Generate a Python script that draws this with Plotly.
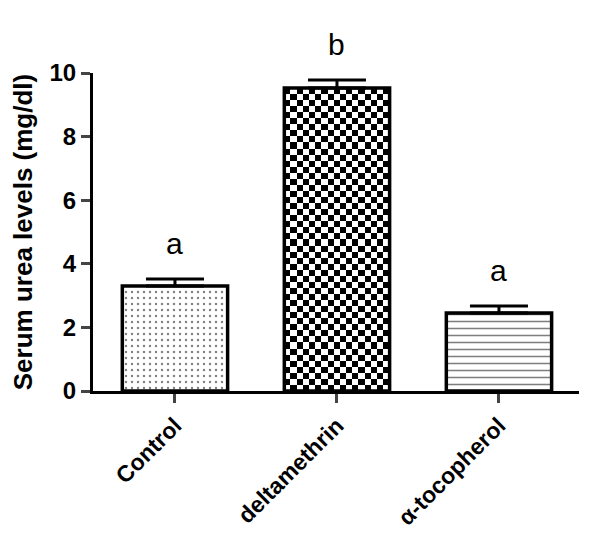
import numpy as np
import plotly.graph_objects as go

groups = ['Control', 'deltamethrin', 'α-tocopherol']
urea = [3.30, 9.53, 2.45]
sem = [0.22, 0.25, 0.22]
letters = ['a', 'b', 'a']

font = 'Arial, Liberation Sans, sans-serif'
bar_w = 0.65
ymax = 10
xpos = list(range(len(groups)))

fig = go.Figure()

# checkerboard fill for the deltamethrin bar (plotly has no checker pattern)
nx, ny = 17, 50
xe = np.linspace(xpos[1] - bar_w / 2, xpos[1] + bar_w / 2, nx + 1)
ye = np.linspace(0, urea[1], ny + 1)
z = (np.add.outer(np.arange(ny), np.arange(nx)) % 2).astype(float)
fig.add_trace(go.Heatmap(x=xe, y=ye, z=z, showscale=False, hoverinfo='skip',
                         colorscale=[[0, 'white'], [1, 'black']]))

patterns = ['.', '', '-']
fills = ['white', 'rgba(0,0,0,0)', 'white']
sizes = [6, 6, 7]
solid = [0.12, 0.2, 0.22]
for i, g in enumerate(groups):
    fig.add_trace(go.Bar(
        x=[xpos[i]], y=[urea[i]], width=bar_w,
        marker=dict(color=fills[i], line=dict(color='black', width=3.5),
                    pattern=dict(shape=patterns[i], fgcolor='black',
                                 bgcolor=fills[i], size=sizes[i], solidity=solid[i])),
        error_y=dict(type='data', symmetric=False, array=[sem[i]], arrayminus=[0],
                     color='black', thickness=3, width=29),
        showlegend=False))

# significance letters (paper coords so the "b" above the axis top still shows)
for i, l in enumerate(letters):
    fig.add_annotation(x=xpos[i], xref='x', yref='paper',
                       y=(urea[i] + sem[i] + 0.55) / ymax, text=l, showarrow=False,
                       yanchor='bottom', font=dict(family=font, size=30, color='black'))

# page body has an 8px default margin, so the figure is a bit smaller and shifted
fig.update_layout(
    width=592, height=546,
    margin=dict(l=85, r=21, t=65, b=163),
    plot_bgcolor='white', paper_bgcolor='white',
    font=dict(family=font, color='black'),
    xaxis=dict(range=[-0.506, 2.494], tickvals=xpos, ticktext=['<b>%s</b>' % g for g in groups],
               tickangle=-45, tickfont=dict(size=23), showline=True, linecolor='black',
               linewidth=3, ticks='outside', ticklen=9, tickwidth=2.5, showgrid=False,
               zeroline=False, automargin=False),
    yaxis=dict(range=[0, ymax], dtick=2, tickfont=dict(size=24), showline=True,
               linecolor='black', linewidth=3, ticks='outside', ticklen=9, tickwidth=2.5,
               showgrid=False, zeroline=False, tickprefix='<b>', ticksuffix='</b>',
               automargin=False,
               title=dict(text='<b>Serum urea levels (mg/dl)</b>', font=dict(size=26),
                          standoff=12)),
)

fig.write_html('out.html')
